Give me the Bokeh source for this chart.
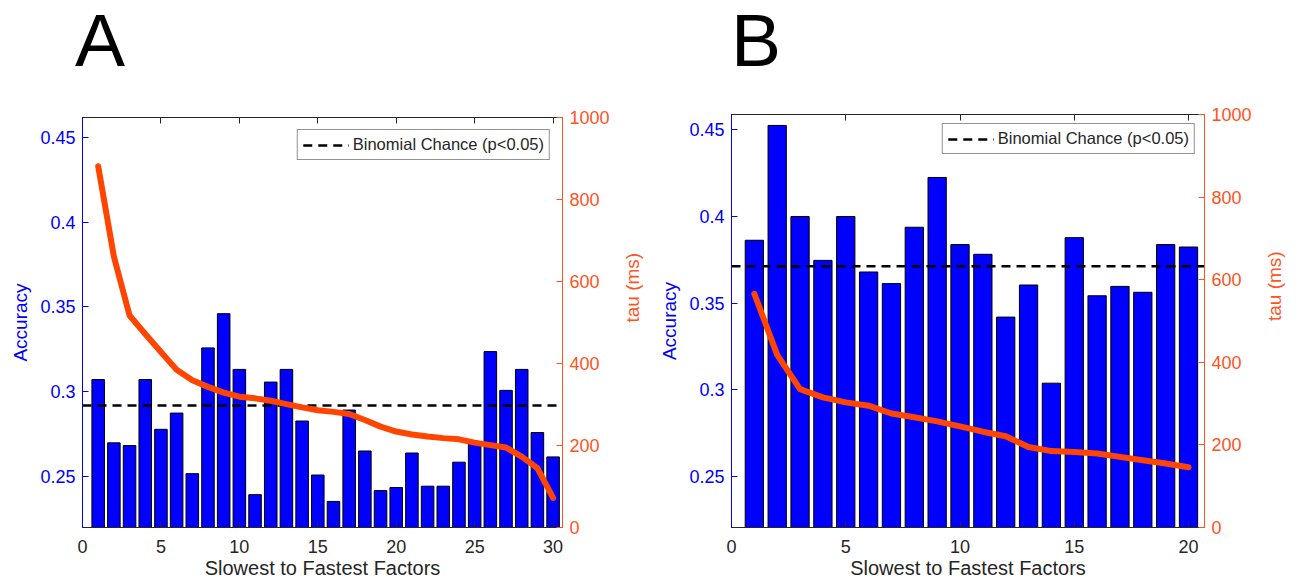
import math
from bokeh.plotting import figure
from bokeh.models import (Range1d, LinearAxis, FixedTicker, NumeralTickFormatter,
                          CustomJSTickFormatter, Div)
from bokeh.layouts import row, column
from bokeh.embed import file_html
from bokeh.resources import INLINE

FONT = "Liberation Sans"

# ---------------- data ----------------
factors_a = list(range(1, 31))
acc_a = [0.307, 0.2696, 0.268, 0.307, 0.2776, 0.2872, 0.2514, 0.3257, 0.3459, 0.313,
         0.239, 0.3055, 0.313, 0.2825, 0.2506, 0.235, 0.289, 0.2648, 0.2414, 0.2432,
         0.2636, 0.244, 0.244, 0.2582, 0.2693, 0.3235, 0.3006, 0.313, 0.2757, 0.2613]
tau_a = [881, 661, 517, 472, 428, 385, 359, 343, 329, 319,
         315, 309, 301, 293, 286, 282, 277, 262, 246, 234,
         227, 222, 218, 215, 207, 201, 195, 173, 145, 72]
chance_a = 0.2916

factors_b = list(range(1, 21))
acc_b = [0.3863, 0.4525, 0.4, 0.3747, 0.4, 0.368, 0.3613, 0.3938, 0.4225, 0.3838,
         0.3782, 0.342, 0.3605, 0.3039, 0.3878, 0.3543, 0.3597, 0.3563, 0.3838, 0.3824]
tau_b = [566, 418, 335, 315, 303, 295, 276, 267, 257, 245,
         232, 221, 195, 185, 183, 179, 171, 163, 155, 146]
chance_b = 0.3713

x_ticks_a = [0, 5, 10, 15, 20, 25, 30]
x_ticks_b = [0, 5, 10, 15, 20]
acc_ticks = [0.25, 0.3, 0.35, 0.4, 0.45]
tau_ticks = [0, 200, 400, 600, 800, 1000]

panel_letters = ["A", "B"]
x_label = "Slowest to Fastest Factors"
left_label = "Accuracy"
right_label = "tau (ms)"
legend_text = "Binomial Chance (p<0.05)"

BLUE = "#0000FF"
ORANGE_AX = "#FF5322"
ORANGE_LINE = "#FF4500"
DARK = "#262626"

HEADER_H = 80
TOTAL_H = 585


def style_axis(ax, color, text_color, tick_size="18px", label_size="19px"):
    ax.axis_line_color = color
    ax.major_tick_line_color = color
    ax.major_tick_in = 6
    ax.major_tick_out = 0
    ax.minor_tick_line_color = None
    ax.major_label_text_color = text_color
    ax.major_label_text_font = FONT
    ax.major_label_text_font_size = tick_size
    ax.axis_label_text_font = FONT
    ax.axis_label_text_font_size = label_size
    ax.axis_label_text_font_style = "normal"
    ax.axis_label_text_color = text_color


def make_panel(letter, factors, acc, tau, chance, xmax, yrange, xticks,
               width, height, borders, letter_left, legend_margin):
    bl, br, bt, bb = borders
    p = figure(width=width, height=height,
               x_range=Range1d(0, xmax), y_range=Range1d(*yrange),
               output_backend="svg", toolbar_location=None,
               min_border_left=bl, min_border_right=br,
               min_border_top=bt, min_border_bottom=bb)
    p.title = None
    p.extra_y_ranges = {"tau": Range1d(0, 1000)}
    p.xgrid.visible = False
    p.ygrid.visible = False
    p.outline_line_color = DARK
    p.outline_line_width = 1
    p.background_fill_color = "white"
    p.border_fill_color = "white"

    # bars
    p.vbar(x=factors, top=acc, bottom=0, width=0.8,
           fill_color=BLUE, line_color="black", line_width=1)
    # chance line
    p.line(x=[0, xmax], y=[chance, chance], line_color="black",
           line_width=2.5, line_dash="9 6", legend_label=legend_text)
    # tau line
    p.line(x=factors, y=tau, y_range_name="tau", line_color=ORANGE_LINE,
           line_width=6, line_join="round", line_cap="round")

    # axes
    xa = p.xaxis[0]
    style_axis(xa, DARK, DARK, "18px", "20px")
    xa.ticker = FixedTicker(ticks=xticks)
    xa.axis_label = x_label
    xa.major_label_standoff = 12
    xa.axis_label_standoff = 1

    ya = p.yaxis[0]
    style_axis(ya, BLUE, BLUE)
    ya.ticker = FixedTicker(ticks=acc_ticks)
    ya.formatter = NumeralTickFormatter(format="0.[00]")
    ya.axis_label = left_label
    ya.major_label_standoff = 7
    ya.axis_label_standoff = 6

    ra = LinearAxis(y_range_name="tau", ticker=FixedTicker(ticks=tau_ticks),
                    axis_label=right_label)
    style_axis(ra, ORANGE_AX, ORANGE_AX)
    ra.major_label_standoff = 7
    ra.axis_label_standoff = 20
    ra.axis_label_orientation = math.pi / 2
    p.add_layout(ra, "right")

    ta = LinearAxis(ticker=FixedTicker(ticks=xticks),
                    formatter=CustomJSTickFormatter(code="return ''"))
    style_axis(ta, DARK, DARK)
    ta.major_label_standoff = 0
    p.add_layout(ta, "above")

    lg = p.legend[0]
    lg.location = "top_right"
    lg.margin = legend_margin
    lg.padding = 5
    lg.spacing = 0
    lg.glyph_width = 46
    lg.glyph_height = 16
    lg.label_height = 16
    lg.label_standoff = 4
    lg.label_text_font = FONT
    lg.label_text_font_size = "16.5px"
    lg.label_text_color = DARK
    lg.border_line_color = DARK
    lg.border_line_width = 1
    lg.background_fill_color = "white"
    lg.background_fill_alpha = 1.0

    header = Div(
        text=("<div style=\"font-family:'Liberation Sans',Arial,sans-serif;"
              "font-size:75px;line-height:75px;color:#000;"
              f"margin:3px 0 0 {letter_left}px;padding:0\">{letter}</div>"),
        width=width, height=HEADER_H, margin=(0, 0, 0, 0))
    return column(header, p, spacing=0)


fig_h = TOTAL_H - HEADER_H
pa = make_panel(panel_letters[0], factors_a, acc_a, tau_a, chance_a, 30.6,
                (0.2196, 0.4618), x_ticks_a, 656, fig_h,
                (82, 90, 117 - HEADER_H, fig_h - (117 - HEADER_H) - 410),
                75, 12)
pb = make_panel(panel_letters[1], factors_b, acc_b, tau_b, chance_b, 20.7,
                (0.2207, 0.4588), x_ticks_b, 642, fig_h,
                (74, 91, 114 - HEADER_H, fig_h - (114 - HEADER_H) - 413),
                75, 9)

layout = row(pa, pb, spacing=0)
open("out.html", "w").write(file_html(layout, INLINE))
